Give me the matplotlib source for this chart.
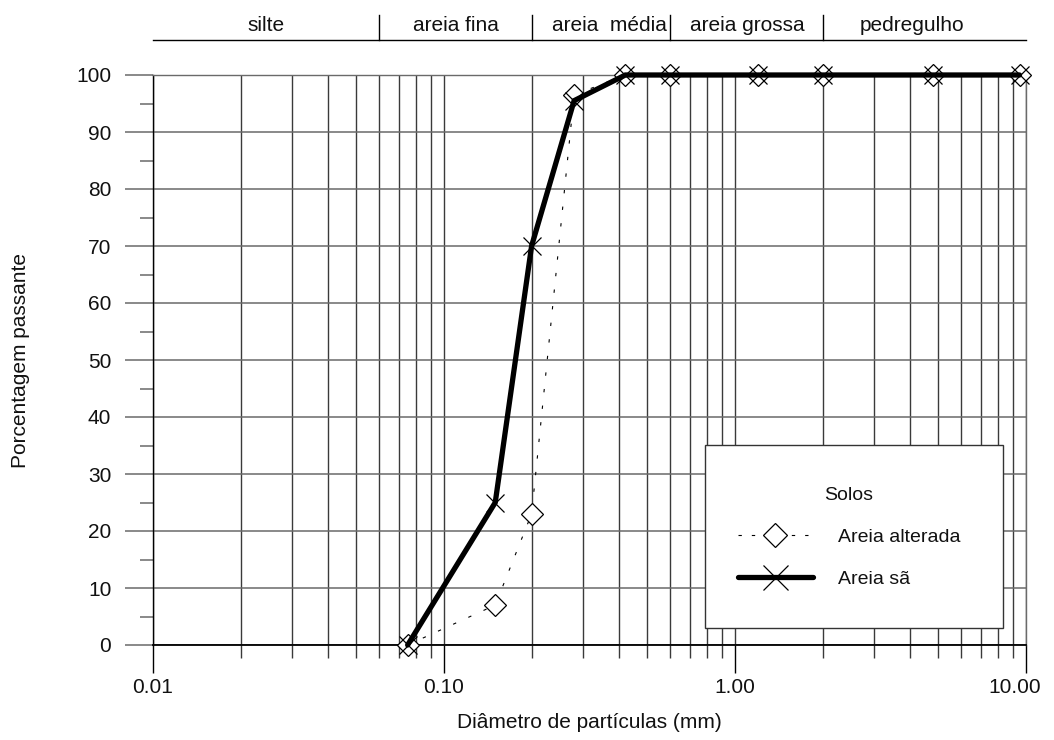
import matplotlib
matplotlib.use("Agg")
import matplotlib.pyplot as plt
from matplotlib.lines import Line2D
from matplotlib.patches import Rectangle
from matplotlib.transforms import ScaledTranslation
from matplotlib.ticker import LogLocator, FixedLocator, FuncFormatter, MultipleLocator

plt.rcParams['font.family'] = ['Liberation Sans', 'DejaVu Sans']

# Sieve openings (mm) and percent passing for each soil
diam_alterada = [0.075, 0.15, 0.2, 0.28, 0.42, 0.6, 1.2, 2.0, 4.8, 9.5]
pass_alterada = [0.0, 7.0, 23.0, 96.5, 100.0, 100.0, 100.0, 100.0, 100.0, 100.0]
diam_sa = [0.075, 0.15, 0.2, 0.28, 0.42, 0.6, 1.2, 2.0, 4.8, 9.5]
pass_sa = [0.0, 25.0, 70.0, 95.5, 100.0, 100.0, 100.0, 100.0, 100.0, 100.0]

# Grain-size classes shown above the plot
class_bounds = [0.06, 0.2, 0.6, 2.0]
class_names = ["silte", "areia fina", "areia  média", "areia grossa", "pedregulho"]
class_label_x = [0.0245, 0.11, 0.37, 1.1, 4.06]

x_ticks = [0.01, 0.1, 1.0, 10.0]
x_ticklabels = ["0.01", "0.10", "1.00", "10.00"]
y_ticks = list(range(0, 101, 10))

W, H = 1054, 740
fig = plt.figure(figsize=(W / 100, H / 100), dpi=100)
ax = fig.add_axes([153 / W, (H - 645) / H, 873 / W, 570 / H])

ax.set_xscale('log')
ax.set_xlim(0.01, 10)
ax.set_ylim(0, 100)

grid_v = '#3a3a3a'
grid_h = '#6a6a6a'
txt = '#111111'
fs = 15

ax.xaxis.set_major_locator(FixedLocator(x_ticks))
ax.xaxis.set_major_formatter(FuncFormatter(
    lambda v, p: x_ticklabels[x_ticks.index(min(x_ticks, key=lambda t: abs(t - v)))]))
ax.xaxis.set_minor_locator(LogLocator(base=10, subs=range(2, 10)))
ax.xaxis.set_minor_formatter(FuncFormatter(lambda v, p: ""))
ax.yaxis.set_major_locator(FixedLocator(y_ticks))
ax.yaxis.set_minor_locator(MultipleLocator(5))

ax.grid(True, which='both', axis='x', color=grid_v, lw=1.0)
ax.grid(True, which='major', axis='y', color=grid_h, lw=1.1)

ax.tick_params(axis='x', which='major', direction='out', length=20, width=1.0,
               color='black', pad=4, labelsize=fs, labelcolor=txt)
ax.tick_params(axis='x', which='minor', direction='out', length=9.4, width=1.0,
               color=grid_v)
ax.tick_params(axis='y', which='major', direction='out', length=20, width=1.1,
               color=grid_h, pad=10, labelsize=fs, labelcolor=txt)
ax.tick_params(axis='y', which='minor', direction='out', length=9.4, width=1.1,
               color=grid_h)

# nudge the last x tick label so it stays inside the canvas
last_tick = ax.xaxis.get_major_ticks()[-1]
last_tick.label1.set_transform(last_tick.label1.get_transform()
                               + ScaledTranslation(-0.11, 0, fig.dpi_scale_trans))

for side in ('top', 'right'):
    ax.spines[side].set_color(grid_h)
    ax.spines[side].set_linewidth(1.0)
ax.spines['left'].set_color('black')
ax.spines['bottom'].set_color('black')
ax.spines['left'].set_linewidth(1.0)
ax.spines['bottom'].set_linewidth(1.3)

# Grading curves
ax.plot(diam_alterada, pass_alterada, color='black', lw=0.8, ls=(0, (3, 12)),
        marker='D', ms=11.5, mfc='white', mec='black', mew=0.9,
        clip_on=False, zorder=4)
ax.plot(diam_sa, pass_sa, color='black', lw=3.8, solid_capstyle='round',
        solid_joinstyle='miter', marker='x', ms=13, mec='black', mew=0.9,
        clip_on=False, zorder=5)

# Grain-size classification band
tr = ax.get_xaxis_transform()
ax.plot([0.01, 10], [1.0614, 1.0614], color='black', lw=1.0, transform=tr,
        clip_on=False)
for b in class_bounds:
    ax.plot([b, b], [1.0614, 1.1053], color='black', lw=1.0, transform=tr,
            clip_on=False)
for name, xl in zip(class_names, class_label_x):
    ax.text(xl, 1.0877, name, transform=tr, ha='center', va='center',
            fontsize=fs, color=txt)

ax.set_xlabel("Diâmetro de partículas (mm)", fontsize=fs, color=txt, labelpad=11)
ax.set_ylabel("Porcentagem passante", fontsize=fs, color=txt, labelpad=33)

# Legend box
ax.add_patch(Rectangle((0.632, 0.0298), 0.342, 0.321, transform=ax.transAxes,
                       facecolor='white', edgecolor='#333', lw=1.0, zorder=6))
handles = [
    Line2D([], [], color='black', lw=0.8, ls=(0, (3, 9)), marker='D', ms=12.5,
           mfc='white', mec='black', mew=0.9),
    Line2D([], [], color='black', lw=3.8, solid_capstyle='round', marker='x',
           ms=18, mec='black', mew=0.9),
]
leg = ax.legend(handles, ["Areia alterada", "Areia sã"], title="Solos",
                loc='center', bbox_to_anchor=(0.797, 0.1886), frameon=False,
                fontsize=14, title_fontsize=14, handlelength=3.9,
                handletextpad=1.24, labelspacing=1.26, borderpad=2.0)
leg.set_zorder(7)
for t in leg.get_texts():
    t.set_color(txt)
leg.get_title().set_color(txt)

fig.savefig("out.png", dpi=100)
